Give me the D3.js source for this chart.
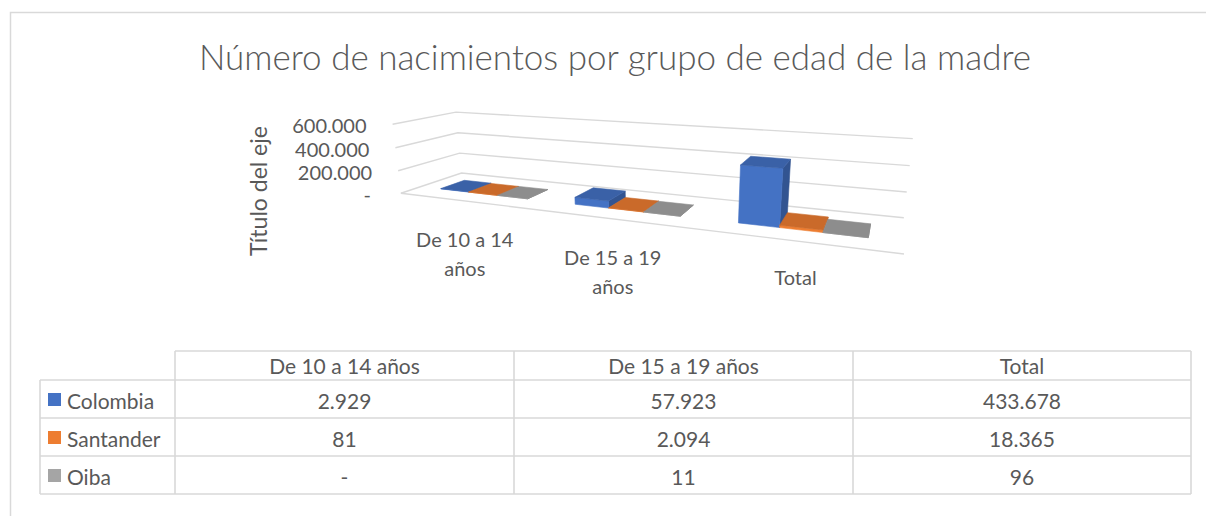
<!DOCTYPE html>
<html lang="es">
<head>
<meta charset="utf-8">
<script src="https://cdn.jsdelivr.net/npm/d3@7"></script>
<style>
  html, body { margin: 0; padding: 0; background: #ffffff; }
  svg { display: block; font-family: "Lato", "Open Sans", sans-serif; }
  text { fill: #595959; }
</style>
</head>
<body>
<svg id="chart" width="1206" height="516"></svg>
<script>
// ---- data ----------------------------------------------------------------
const categories = ["De 10 a 14 años", "De 15 a 19 años", "Total"];
const seriesNames = ["Colombia", "Santander", "Oiba"];
const colombia = [2929, 57923, 433678];
const santander = [81, 2094, 18365];
const oiba = [0, 11, 96];
const yTicks = [0, 200000, 400000, 600000];
const seriesColors = ["#4472C4", "#ED7D31", "#A5A5A5"];

const chartTitle = "Número de nacimientos por grupo de edad de la madre";
const valueAxisTitle = "Título del eje";

const seriesValues = [colombia, santander, oiba];

// ---- formatting (es-CO style: "." as thousands separator, zero as "-") ---
const esLocale = d3.formatLocale({ decimal: ",", thousands: ".", grouping: [3], currency: ["$", ""] });
const fmtInt = esLocale.format(",d");
const fmt = v => (v === 0 ? "-" : fmtInt(v));

const svg = d3.select("#chart");

// chart area frame
svg.append("rect")
  .attr("x", 10.5).attr("y", 12.5)
  .attr("width", 1210).attr("height", 620)
  .attr("fill", "none").attr("stroke", "#d9d9d9").attr("stroke-width", 1.5);

// ---- title ---------------------------------------------------------------
svg.append("text")
  .attr("x", 615).attr("y", 70)
  .attr("text-anchor", "middle")
  .attr("font-size", 35).attr("font-weight", 300)
  .text(chartTitle);

// ---- 3D plot space -------------------------------------------------------
// World space: X runs along the categories (0..1), Z is depth (0 front .. 1 back),
// Y is the value normalised by the top of the value axis (0..1).
const xBand = d3.scaleBand().domain(categories).range([0, 1])
  .paddingInner(1 / 3).paddingOuter(1 / 6);
const xSeries = d3.scaleBand().domain(seriesNames).range([0, xBand.bandwidth()]);
const yScale = d3.scaleLinear().domain([0, 600000]).range([0, 1]);
const barDepth = [0.3, 0.7];

// Perspective camera of the plot box, solved from where the box corners
// (floor, back wall and side wall) sit on the page.
const boxAnchors = [
  [0, 0, 0, 402, 193], [1, 0, 0, 904, 254],
  [0, 0, 1, 462, 173], [1, 0, 1, 904, 218],
  [0, 1, 0, 392, 124], [0, 1, 1, 458, 112], [1, 1, 1, 913, 139],
  [0, 1 / 3, 0, 398, 171], [0, 2 / 3, 0, 395, 148],
  [0, 1 / 3, 1, 458, 153], [0, 2 / 3, 1, 457, 133],
  [1, 1 / 3, 1, 907, 192], [1, 2 / 3, 1, 909, 165]
];

function solveCamera(anchors) {
  const cx = 650, cy = 190, s = 300;
  const rows = [], rhs = [];
  for (const [X, Y, Z, u0, v0] of anchors) {
    const u = (u0 - cx) / s, v = (v0 - cy) / s;
    rows.push([X, Y, Z, 1, 0, 0, 0, 0, -u * X, -u * Y, -u * Z]); rhs.push(u);
    rows.push([0, 0, 0, 0, X, Y, Z, 1, -v * X, -v * Y, -v * Z]); rhs.push(v);
  }
  const n = 11;
  const M = Array.from({ length: n }, () => new Array(n + 1).fill(0));
  rows.forEach((r, k) => {
    for (let i = 0; i < n; i++) {
      for (let j = 0; j < n; j++) M[i][j] += r[i] * r[j];
      M[i][n] += r[i] * rhs[k];
    }
  });
  for (let c = 0; c < n; c++) {
    let piv = c;
    for (let r = c + 1; r < n; r++) if (Math.abs(M[r][c]) > Math.abs(M[piv][c])) piv = r;
    [M[c], M[piv]] = [M[piv], M[c]];
    for (let r = 0; r < n; r++) {
      if (r === c) continue;
      const f = M[r][c] / M[c][c];
      for (let j = c; j <= n; j++) M[r][j] -= f * M[c][j];
    }
  }
  const p = M.map((row, i) => row[n] / row[i]);
  return (X, Y, Z) => {
    const w = p[8] * X + p[9] * Y + p[10] * Z + 1;
    return [
      cx + s * (p[0] * X + p[1] * Y + p[2] * Z + p[3]) / w,
      cy + s * (p[4] * X + p[5] * Y + p[6] * Z + p[7]) / w
    ];
  };
}
const project = solveCamera(boxAnchors);
const line = d3.line();

// ---- gridlines on the side wall and back wall ---------------------------
const grid = svg.append("g");
yTicks.forEach(t => {
  const y = yScale(t);
  grid.append("path")
    .attr("d", line([project(0, y, 0), project(0, y, 1), project(1, y, 1)]))
    .attr("fill", "none").attr("stroke", "#d9d9d9").attr("stroke-width", 1.4);
});
// category axis along the front of the floor
grid.append("path")
  .attr("d", line([project(0, 0, 0), project(1, 0, 0)]))
  .attr("fill", "none").attr("stroke", "#d9d9d9").attr("stroke-width", 1.4);

// ---- value axis labels ---------------------------------------------------
const yLabels = svg.append("g").attr("font-size", 20);
yTicks.forEach(t => {
  const [px, py] = project(0, yScale(t), 0);
  yLabels.append("text")
    .attr("x", px - (t === 0 ? 30 : 26)).attr("y", py + 1)
    .attr("text-anchor", "end").attr("dominant-baseline", "central")
    .text(fmt(t));
});

svg.append("text")
  .attr("transform", "translate(258,191) rotate(-90)")
  .attr("text-anchor", "middle").attr("dominant-baseline", "central")
  .attr("font-size", 23)
  .text(valueAxisTitle);

// ---- 3D columns ----------------------------------------------------------
const bars = svg.append("g");
categories.forEach((cat, ci) => {
  seriesNames.forEach((name, si) => {
    const x0 = xBand(cat) + xSeries(name);
    const x1 = x0 + xSeries.bandwidth();
    const [z0, z1] = barDepth;
    const h = yScale(seriesValues[si][ci]);
    const base = d3.color(seriesColors[si]);
    const faces = [
      { pts: [[x1, 0, z0], [x1, 0, z1], [x1, h, z1], [x1, h, z0]], fill: base.darker(0.85) },
      { pts: [[x0, 0, z0], [x1, 0, z0], [x1, h, z0], [x0, h, z0]], fill: base },
      { pts: [[x0, h, z0], [x1, h, z0], [x1, h, z1], [x0, h, z1]], fill: base.darker(0.45) }
    ];
    faces.forEach(f => {
      bars.append("path")
        .attr("d", line(f.pts.map(q => project(...q))) + "Z")
        .attr("fill", f.fill)
        .attr("stroke", f.fill).attr("stroke-width", 0.6).attr("stroke-linejoin", "round");
    });
  });
});

// ---- category labels (wrapped) -------------------------------------------
const catLabels = svg.append("g").attr("font-size", 20);
categories.forEach(cat => {
  const xc = xBand(cat) + xBand.bandwidth() / 2;
  const [px, py] = project(xc, 0, 0);
  const t = catLabels.append("text").attr("text-anchor", "middle");
  const words = cat.split(" ");
  const lines = [];
  let cur = [];
  const probe = catLabels.append("text");
  words.forEach(w => {
    const trial = cur.concat(w).join(" ");
    probe.text(trial);
    if (cur.length && probe.node().getComputedTextLength() > 128) {
      lines.push(cur.join(" "));
      cur = [w];
    } else cur.push(w);
  });
  lines.push(cur.join(" "));
  probe.remove();
  lines.forEach((l, i) => {
    t.append("tspan").attr("x", px).attr("y", py + 46 - (lines.length === 1 ? 2 : 0) + i * 29).text(l);
  });
});

// ---- data table ----------------------------------------------------------
const tbl = svg.append("g");
const colX = [175, 514, 853, 1191];
const legendLeft = 40;
const headTop = 351;
const rowY = [380, 418, 456, 494];
const gridStroke = "#d9d9d9";

// horizontal rules
tbl.append("line").attr("x1", colX[0]).attr("x2", colX[3]).attr("y1", headTop).attr("y2", headTop);
rowY.forEach(y => tbl.append("line").attr("x1", legendLeft).attr("x2", colX[3]).attr("y1", y).attr("y2", y));
// vertical rules
colX.forEach(x => tbl.append("line").attr("x1", x).attr("x2", x).attr("y1", headTop).attr("y2", rowY[3]));
tbl.append("line").attr("x1", legendLeft).attr("x2", legendLeft).attr("y1", rowY[0]).attr("y2", rowY[3]);
tbl.selectAll("line").attr("stroke", gridStroke).attr("stroke-width", 1.6);

const tblText = svg.append("g").attr("font-size", 21);
categories.forEach((cat, ci) => {
  tblText.append("text")
    .attr("x", (colX[ci] + colX[ci + 1]) / 2).attr("y", (headTop + rowY[0]) / 2)
    .attr("text-anchor", "middle").attr("dominant-baseline", "central")
    .text(cat);
});
seriesNames.forEach((name, si) => {
  const cy = (rowY[si] + rowY[si + 1]) / 2;
  tblText.append("rect")
    .attr("x", 48).attr("y", cy - 6).attr("width", 13).attr("height", 13)
    .attr("fill", seriesColors[si]);
  tblText.append("text")
    .attr("x", 67).attr("y", cy + 1)
    .attr("dominant-baseline", "central")
    .text(name);
  seriesValues[si].forEach((v, ci) => {
    tblText.append("text")
      .attr("x", (colX[ci] + colX[ci + 1]) / 2).attr("y", cy + 1)
      .attr("text-anchor", "middle").attr("dominant-baseline", "central")
      .text(fmt(v));
  });
});
</script>
</body>
</html>
